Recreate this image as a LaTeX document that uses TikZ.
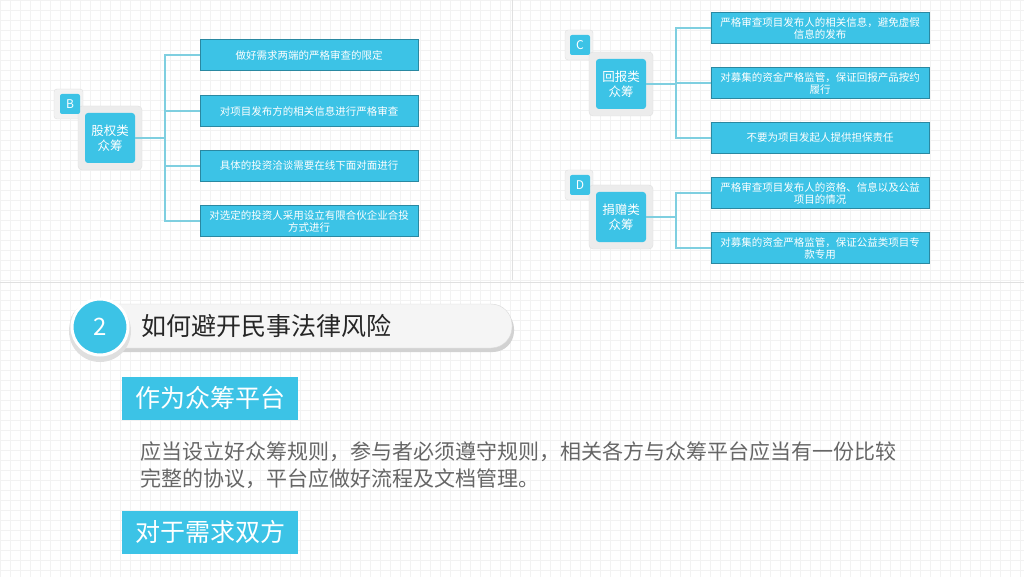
\documentclass[tikz,border=0pt]{standalone}
\usepackage{fontspec}
\setmainfont{Noto Sans CJK SC}
\usetikzlibrary{positioning}
\definecolor{cyanbox}{HTML}{3CC3E6}
\definecolor{linec}{HTML}{7FCFE0}
\tikzset{
  itembox/.style={fill=cyanbox,draw=cyanbox!70!black,line width=0.6pt,text=white,minimum width=218pt,minimum height=31pt,align=center,font=\fontsize{10.5}{12}\selectfont,inner sep=1pt},
  catbox/.style={fill=cyanbox,rounded corners=3pt,text=white,minimum width=50pt,minimum height=50pt,align=center,font=\fontsize{12.5}{15}\selectfont},
  badge/.style={fill=cyanbox,rounded corners=2pt,text=white,minimum width=20pt,minimum height=20pt,font=\fontsize{12}{12}\selectfont},
  conn/.style={linec,line width=1.2pt},
  headbox/.style={fill=cyanbox,text=white,minimum width=176pt,minimum height=43pt,font=\fontsize{25}{25}\selectfont}
}
\begin{document}
\begin{tikzpicture}[x=1pt,y=-1pt]
\useasboundingbox (0,0) rectangle (1024,577);
\fill[white] (0,0) rectangle (1024,577);
% grid
\draw[black!5,line width=0.3pt] (0,0) grid[step=10pt] (1024,577);
\draw[black!12,line width=0.8pt] (512,0) -- (512,280);
\draw[black!12,line width=0.8pt] (0,282) -- (1024,282);
% B block
\fill[gray!10,draw=gray!25,rounded corners=3pt] (54,89) rectangle (83,119);
\fill[gray!15,draw=gray!25,rounded corners=4pt] (78,106) rectangle (142,170);
\node[catbox] (B) at (110,138) {股权类\\众筹};
\node[badge] (Bb) at (70,104) {B};
\node[itembox] (b1) at (309,55) {做好需求两端的严格审查的限定};
\node[itembox] (b2) at (309,111) {对项目发布方的相关信息进行严格审查};
\node[itembox] (b3) at (309,166) {具体的投资洽谈需要在线下面对面进行};
\node[itembox] (b4) at (309,221) {对选定的投资人采用设立有限合伙企业合投\\方式进行};
\coordinate (bj) at (165,138);
\draw[conn] (B.east) -- (bj);
\foreach \n in {b1,b2,b3,b4} \draw[conn] (bj) |- (\n.west);
% C block
\fill[gray!10,draw=gray!25,rounded corners=3pt] (565,30) rectangle (593,60);
\fill[gray!15,draw=gray!25,rounded corners=4pt] (589,52) rectangle (653,116);
\node[catbox] (C) at (621,84) {回报类\\众筹};
\node[badge] (Cb) at (580,45) {C};
\node[itembox] (c1) at (820,28) {严格审查项目发布人的相关信息，避免虚假\\信息的发布};
\node[itembox] (c2) at (820,83) {对募集的资金严格监管，保证回报产品按约\\履行};
\node[itembox] (c3) at (820,138) {不要为项目发起人提供担保责任};
\coordinate (cj) at (676,84);
\draw[conn] (C.east) -- (cj);
\foreach \n in {c1,c2,c3} \draw[conn] (cj) |- (\n.west);
% D block
\fill[gray!10,draw=gray!25,rounded corners=3pt] (565,170) rectangle (593,200);
\fill[gray!15,draw=gray!25,rounded corners=4pt] (589,185) rectangle (653,249);
\node[catbox] (D) at (621,217) {捐赠类\\众筹};
\node[badge] (Db) at (580,185) {D};
\node[itembox] (d1) at (820,193) {严格审查项目发布人的资格、信息以及公益\\项目的情况};
\node[itembox] (d2) at (820,248) {对募集的资金严格监管，保证公益类项目专\\款专用};
\coordinate (dj) at (676,217);
\draw[conn] (D.east) -- (dj);
\foreach \n in {d1,d2} \draw[conn] (dj) |- (\n.west);
% banner
\fill[gray!35,rounded corners=21pt] (72,308) rectangle (514,352);
\fill[gray!8,draw=gray!30,rounded corners=21pt] (70,304) rectangle (512,348);
\fill[gray!25] (100,331) circle (31);
\node[circle,fill=cyanbox,draw=white,line width=3pt,minimum size=56pt,text=white,font=\fontsize{24}{24}\selectfont] (num) at (100,327) {2};
\node[anchor=west,font=\fontsize{25}{25}\selectfont,text=black!85] (title) at (138,326) {如何避开民事法律风险};
% sections
\node[headbox] (h1) at (210,398) {作为众筹平台};
\node[anchor=north west,text width=850pt,font=\fontsize{21}{27}\selectfont,text=black!60,inner sep=0pt] (body) at (140,441) {应当设立好众筹规则，参与者必须遵守规则，相关各方与众筹平台应当有一份比较\\完整的协议，平台应做好流程及文档管理。};
\node[headbox] (h2) at (210,532) {对于需求双方};
\end{tikzpicture}
\end{document}
